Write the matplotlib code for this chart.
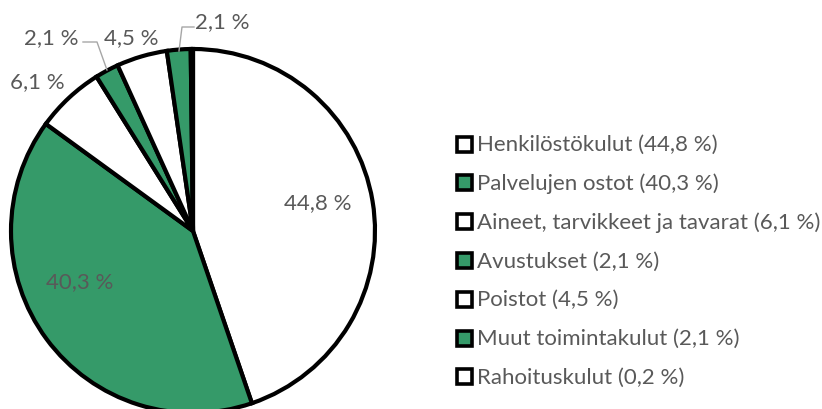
import numpy as np
import matplotlib.pyplot as plt
from matplotlib.patches import Rectangle

plt.rcParams['font.family'] = ['Lato', 'DejaVu Sans']

categories = ['Henkilöstökulut', 'Palvelujen ostot', 'Aineet, tarvikkeet ja tavarat',
              'Avustukset', 'Poistot', 'Muut toimintakulut', 'Rahoituskulut']
values = [44.8, 40.3, 6.1, 2.1, 4.5, 2.1, 0.2]
green = '#359a69'
colors = ['white', green, 'white', green, 'white', green, 'white']

text_color = '#595959'
W, H = 822, 410
cx, cy, r = 193, 232, 182


def fmt(v):
    return f"{v:.1f}".replace('.', ',') + ' %'


def to_data(x, y):
    # pixel position in the image -> pie data coords
    return (x - cx) / r, (cy - y) / r


fig = plt.figure(figsize=(W / 100, H / 100), dpi=100)
ax = fig.add_axes([(cx - r) / W, (H - cy - r) / H, 2 * r / W, 2 * r / H])
wedges, _ = ax.pie(values, colors=colors, startangle=90, counterclock=False,
                   wedgeprops=dict(edgecolor='black', linewidth=3))
for w in wedges:
    w.set_clip_on(False)
ax.set_xlim(-1, 1)
ax.set_ylim(-1, 1)
ax.set_axis_off()

# data labels (pixel positions as placed in the original)
label_pos = [(318, 203), (80, 282), (37, 82), (51, 38), (131, 38), (222, 22), None]
for v, pos in zip(values, label_pos):
    if pos is None:
        continue
    x, y = to_data(*pos)
    ax.text(x, y, fmt(v), ha='center', va='center', fontsize=16,
            color=text_color, clip_on=False)

# leader lines
leaders = [[(83, 43), (97, 43), (107, 71)], [(194, 28), (182, 28), (179, 52)]]
for pts in leaders:
    xs, ys = zip(*[to_data(*p) for p in pts])
    ax.plot(xs, ys, color='#a6a6a6', lw=1, clip_on=False)

# legend
row0, step = 145, 38.8
for i, (name, v, c) in enumerate(zip(categories, values, colors)):
    yc = row0 + i * step
    sq = 15
    fig.add_artist(Rectangle((457 / W, 1 - (yc + sq / 2) / H), sq / W, sq / H,
                             transform=fig.transFigure, facecolor=c,
                             edgecolor='black', lw=2.6))
    fig.text(477 / W, 1 - yc / H, f"{name} ({fmt(v)})", va='center', ha='left',
             fontsize=16, color=text_color)

fig.savefig('out.png', dpi=100)
